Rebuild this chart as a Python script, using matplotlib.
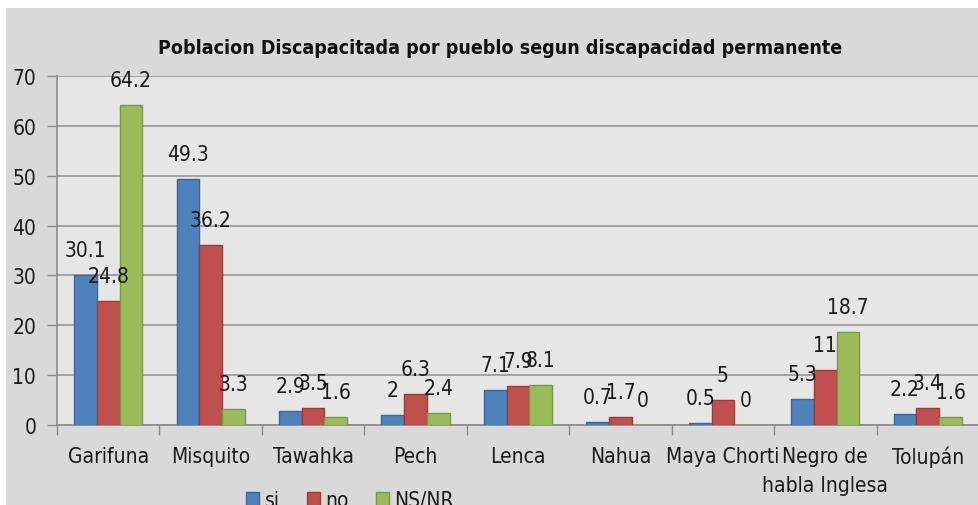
import numpy as np
import matplotlib.pyplot as plt
from matplotlib import font_manager
from matplotlib.patches import Rectangle

# data
pueblos = ['Garifuna', 'Misquito', 'Tawahka', 'Pech', 'Lenca', 'Nahua',
           'Maya Chorti', 'Negro de\nhabla Inglesa', 'Tolupán']
si = [30.1, 49.3, 2.9, 2.0, 7.1, 0.7, 0.5, 5.3, 2.2]
no = [24.8, 36.2, 3.5, 6.3, 7.9, 1.7, 5.0, 11.0, 3.4]
nsnr = [64.2, 3.3, 1.6, 2.4, 8.1, 0.0, 0.0, 18.7, 1.6]
series_names = ['si', 'no', 'NS/NR']
yticks = [0, 10, 20, 30, 40, 50, 60, 70]

# the original uses a narrow font; take a condensed face if one is installed
fonts = font_manager.fontManager.ttflist
narrow = [f for f in fonts if f.name == 'Liberation Sans Narrow']
cond = [f for f in fonts if f.name == 'DejaVu Sans' and 'condensed' in str(f.stretch)]
if narrow:
    plt.rcParams['font.family'] = ['Liberation Sans Narrow', 'DejaVu Sans']
    fs = 17
elif cond:
    plt.rcParams['font.family'] = ['DejaVu Sans']
    plt.rcParams['font.stretch'] = 'condensed'
    fs = 15
else:
    plt.rcParams['font.family'] = ['Roboto', 'DejaVu Sans']
    fs = 15

fig = plt.figure(figsize=(9.79, 5.06), dpi=100, facecolor='white')
# gray chart area (white strip on top and left in the original screenshot)
fig.patches.append(Rectangle((6 / 979, 0), 1, (506 - 9) / 506, transform=fig.transFigure,
                             facecolor='#d9d9d9', edgecolor='none', zorder=-5))

ax = fig.add_axes([57 / 979, 80 / 506, (979 - 57) / 979, (426 - 77) / 506])
ax.set_facecolor('#e6e6e6')

x = np.arange(len(pueblos))
w = 0.222
colors = ['#4f81bd', '#c0504d', '#9bbb59']
edges = ['#3c6796', '#983d3a', '#7a9646']

for i, (vals, name) in enumerate(zip([si, no, nsnr], series_names)):
    pos = x + (i - 1) * w
    bars = ax.bar(pos, vals, width=w, color=colors[i], edgecolor=edges[i],
                  linewidth=1, label=name, zorder=3)
    for b, v in zip(bars, vals):
        ax.annotate('%g' % v, (b.get_x() + b.get_width() / 2, v), xytext=(0, 18),
                    textcoords='offset points', ha='center', va='center',
                    fontsize=fs, color='#1a1a1a', zorder=5)

ax.set_ylim(0, 70)
ax.set_xlim(-0.5, len(pueblos) - 0.5)
ax.set_yticks(yticks)
ax.yaxis.grid(True, color='#a3a3a3', linewidth=1.4, zorder=1)
ax.set_axisbelow(True)

ax.set_xticks(x)
ax.set_xticklabels(pueblos, linespacing=1.6)
ax.set_xticks(np.arange(len(pueblos) + 1) - 0.5, minor=True)
ax.tick_params(axis='x', which='major', length=0, pad=15, labelsize=fs, labelcolor='#1a1a1a')
ax.tick_params(axis='x', which='minor', length=7, width=1, color='#8c8c8c', direction='out')
ax.tick_params(axis='y', length=7, width=1, color='#8c8c8c', pad=8, labelsize=fs,
               labelcolor='#1a1a1a')

for s in ['top', 'right']:
    ax.spines[s].set_visible(False)
for s in ['left', 'bottom']:
    ax.spines[s].set_color('#8c8c8c')
    ax.spines[s].set_linewidth(1.2)

fig.text(500 / 979, 1 - 48 / 506, 'Poblacion Discapacitada por pueblo segun discapacidad permanente',
         ha='center', va='center', fontsize=14, fontweight='bold', color='#111111')

fig.legend(loc='center', bbox_to_anchor=(350 / 979, 5 / 506), ncol=3, frameon=False,
           fontsize=fs, handlelength=0.65, handleheight=0.65, handletextpad=0.25,
           columnspacing=1.3, labelcolor='#1a1a1a')

fig.savefig('out.png', dpi=100, facecolor=fig.get_facecolor())
